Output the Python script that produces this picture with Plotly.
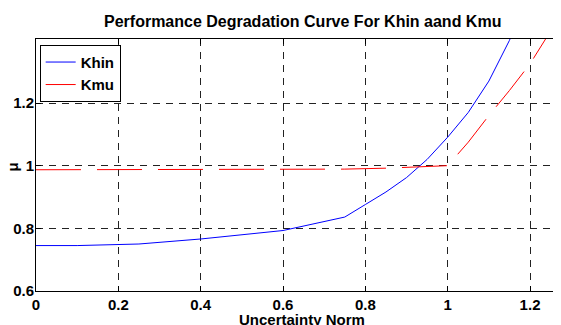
import plotly.graph_objects as go

# Data
khin_x = [0, 0.1, 0.25, 0.4, 0.6, 0.75, 0.8, 0.85, 0.9, 0.95, 1.0, 1.05, 1.1, 1.15, 1.2]
khin_y = [0.745, 0.745, 0.75, 0.766, 0.793, 0.836, 0.876, 0.916, 0.962, 1.02, 1.091, 1.17, 1.27, 1.40, 1.56]

kmu_x = [0, 0.5, 0.75, 0.85, 0.95, 1.0, 1.05, 1.1, 1.15, 1.2, 1.25, 1.3]
kmu_y = [0.987, 0.987, 0.989, 0.992, 0.996, 1.0, 1.075, 1.16, 1.24, 1.325, 1.43, 1.54]

x_ticks = [0, 0.2, 0.4, 0.6, 0.8, 1, 1.2]
x_tick_labels = ["0", "0.2", "0.4", "0.6", "0.8", "1", "1.2"]
y_ticks = [0.6, 0.8, 1.0, 1.2]
y_tick_labels = ["0.6", "0.8", "1", "1.2"]

title_text = "Performance Degradation Curve For Khin aand Kmu"
x_label = "Uncertainty Norm"
y_label = "μ"

FONT = "Liberation Sans, Arial, Helvetica, sans-serif"

fig = go.Figure()
fig.add_trace(go.Scatter(x=khin_x, y=khin_y, mode="lines", name="Khin",
                         line=dict(color="#0000ff", width=1)))
fig.add_trace(go.Scatter(x=kmu_x, y=kmu_y, mode="lines", name="Kmu",
                         line=dict(color="#ff0000", width=1, dash="45px,16px")))

axis_common = dict(
    showline=True, linecolor="black", linewidth=1,
    ticks="inside", ticklen=5, tickcolor="black",
    showgrid=True, gridcolor="#222222", gridwidth=1, griddash="7px,6px",
    zeroline=False, automargin=False,
    tickfont=dict(family=FONT, size=15, color="black", weight="bold"),
)

fig.update_xaxes(range=[0, 1.2752], tickvals=x_ticks, ticktext=x_tick_labels,
                 mirror="ticks", ticklabelstandoff=0, **axis_common)
fig.update_yaxes(range=[0.6, 1.4043], tickvals=y_ticks, ticktext=y_tick_labels,
                 mirror=False, ticklabelstandoff=-2, **axis_common)

# the page body adds an 8px offset, so the figure is 8px smaller on each side
fig.update_layout(
    template="none",
    width=553, height=317, autosize=False,
    margin=dict(l=28, r=0, t=31, b=34, pad=0),
    paper_bgcolor="white", plot_bgcolor="white",
    showlegend=True,
    legend=dict(x=0.007, y=0.977, xanchor="left", yanchor="top",
                bgcolor="white", bordercolor="black", borderwidth=1,
                font=dict(family=FONT, size=15, color="black", weight="bold"),
                itemwidth=30, tracegroupgap=0),
    annotations=[
        dict(text=title_text, xref="paper", yref="paper", x=0.507, y=1,
             xanchor="center", yanchor="middle", yshift=18, showarrow=False,
             font=dict(family=FONT, size=16, color="black", weight="bold")),
        dict(text=x_label, xref="paper", yref="paper", x=0.507, y=0,
             xanchor="center", yanchor="middle", yshift=-28, showarrow=False,
             font=dict(family=FONT, size=15, color="black", weight="bold")),
        dict(text=y_label, xref="paper", yref="paper", x=0, y=0.49,
             xanchor="center", yanchor="middle", xshift=-23, textangle=-90,
             showarrow=False,
             font=dict(family=FONT, size=15, color="black", weight="bold")),
    ],
)

fig.write_html("out.html")
